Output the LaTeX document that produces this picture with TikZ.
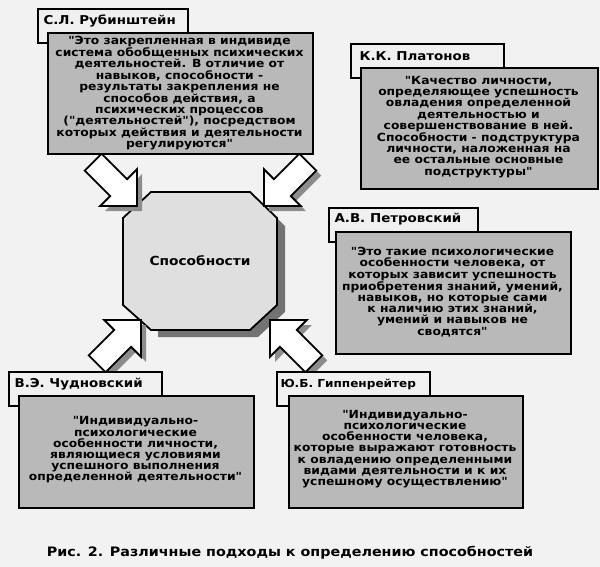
\documentclass[tikz,border=0pt]{standalone}
\usepackage{fontspec}
\setmainfont{DejaVu Sans}
\newfontfamily\wide[FakeStretch=1.1]{DejaVu Sans}
\begin{document}
\begin{tikzpicture}[x=1pt,y=-1pt,
  lab/.style={draw=black,line width=1.8pt,fill=gray!12,anchor=north west,inner sep=0pt},
  labt/.style={anchor=west,font=\wide\bfseries\fontsize{12.2}{13}\selectfont},
  txt/.style={draw=black,line width=1.8pt,fill=gray!55,anchor=north west,inner sep=0pt},
  body/.style={align=center,font=\wide\bfseries\fontsize{11.2}{11.2}\selectfont},
  barrow/.style={draw=black,line width=1.8pt,fill=white,line join=miter}]
\fill[gray!10] (0,0) rectangle (600,567);
\useasboundingbox (0,0) rectangle (600,567);
% octagon
\fill[black!55] (158,198) -- (256,198) -- (285,226) -- (285,312) -- (258,337) -- (158,337) -- cycle;
\draw[line width=1.8pt,fill=gray!25] (151,192) -- (250,192) -- (277,218) -- (277,305) -- (250,330) -- (151,330) -- (123,305) -- (123,218) -- cycle;
\node[font=\wide\bfseries\fontsize{12.5}{13}\selectfont] (core) at (200,261) {Способности};
% block arrows
\def\arrowpath{(0,0) -- (-26,26) -- (-26,12) -- (-62,12) -- (-62,-12) -- (-26,-12) -- (-26,-26) -- cycle}
\foreach \px/\py/\ax/\ay/\bx/\by in {137/206/0.707/-0.707/0.707/0.707, 264/206/-0.707/-0.707/0.707/-0.707, 141/320/0.707/0.707/-0.707/0.707, 270/320/-0.707/0.707/0.707/0.707}{
  \begin{scope}[shift={(\px+5,\py+5)},x={(\ax pt,\ay pt)},y={(\bx pt,\by pt)}]
    \fill[black!45] \arrowpath;
  \end{scope}
  \begin{scope}[shift={(\px,\py)},x={(\ax pt,\ay pt)},y={(\bx pt,\by pt)}]
    \draw[barrow] \arrowpath;
  \end{scope}
}
% boxes
\node[lab,minimum width=150pt,minimum height=34pt] (l1) at (37,8) {};
\node[labt] at (40,21) {С.Л. Рубинштейн};
\node[txt,minimum width=265pt,minimum height=121pt] (t1) at (47,32) {};
\node[body] at (179.5,93) {"Это закрепленная в индивиде\\система обобщенных психических\\деятельностей. В отличие от\\навыков, способности -\\результаты закрепления не\\способов действия, а\\психических процессов\\("деятельностей"), посредством\\которых действия и деятельности\\регулируются"};
%
\node[lab,minimum width=153pt,minimum height=34pt] (l2) at (350,43) {};
\node[labt] at (356,56) {К.К. Платонов};
\node[txt,minimum width=237pt,minimum height=121pt] (t2) at (360,67) {};
\node[body] at (478.5,127) {"Качество личности,\\определяющее успешность\\овладения определенной\\деятельностью и\\совершенствование в ней.\\Способности - подструктура\\личности, наложенная на\\ее остальные основные\\подструктуры"};
%
\node[lab,minimum width=149pt,minimum height=34pt] (l3) at (328,207) {};
\node[labt] at (331,219) {А.В. Петровский};
\node[txt,minimum width=235pt,minimum height=122pt] (t3) at (335,231) {};
\node[body] at (452.5,292) {"Это такие психологические\\особенности человека, от\\которых зависит успешность\\приобретения знаний, умений,\\навыков, но которые сами\\к наличию этих знаний,\\умений и навыков не\\сводятся"};
%
\node[lab,minimum width=153pt,minimum height=34pt] (l4) at (8,371) {};
\node[labt] at (11,384) {В.Э. Чудновский};
\node[txt,minimum width=235pt,minimum height=112pt] (t4) at (18,395) {};
\node[body] at (135.5,450) {"Индивидуально-\\психологические\\особенности личности,\\являющиеся условиями\\успешного выполнения\\определенной деятельности"};
%
\node[lab,minimum width=153pt,minimum height=34pt] (l5) at (276,371) {};
\node[labt,font=\wide\bfseries\fontsize{11}{13}\selectfont] at (277,384) {Ю.Б. Гиппенрейтер};
\node[txt,minimum width=234pt,minimum height=112pt] (t5) at (288,395) {};
\node[body] at (405,449) {"Индивидуально-\\психологические\\особенности человека,\\которые выражают готовность\\к овладению определенными\\видами деятельности и к их\\успешному осуществлению"};
%
\node[font=\wide\bfseries\fontsize{13}{16}\selectfont] (cap) at (290,553) {Рис. 2. Различные подходы к определению способностей};
\end{tikzpicture}
\end{document}
